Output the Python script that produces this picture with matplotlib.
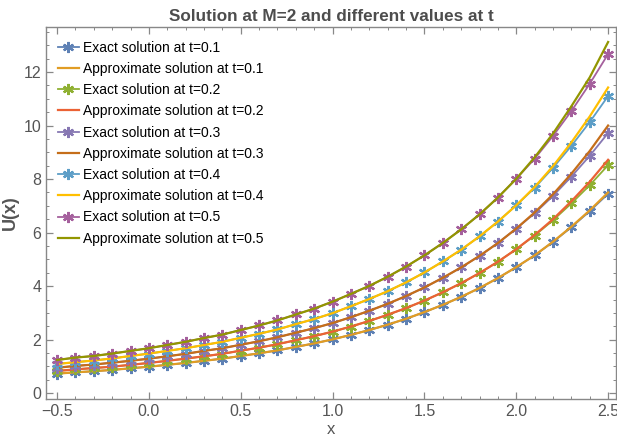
import matplotlib
matplotlib.use("Agg")
import matplotlib.pyplot as plt
from matplotlib.ticker import MultipleLocator

plt.rcParams['font.family'] = ['Liberation Sans', 'DejaVu Sans']

# x grid of the plotted points
x = [-0.5, -0.4, -0.3, -0.2, -0.1, 0.0, 0.1, 0.2, 0.3, 0.4, 0.5,
     0.6, 0.7, 0.8, 0.9, 1.0, 1.1, 1.2, 1.3, 1.4, 1.5,
     1.6, 1.7, 1.8, 1.9, 2.0, 2.1, 2.2, 2.3, 2.4, 2.5]

# exact solution (markers)
exact_t01 = [0.73, 0.78, 0.82, 0.87, 0.93, 0.99, 1.06, 1.13, 1.21, 1.29, 1.39,
             1.49, 1.60, 1.73, 1.86, 2.01, 2.18, 2.36, 2.56, 2.78, 3.03,
             3.30, 3.60, 3.93, 4.30, 4.71, 5.15, 5.65, 6.20, 6.80, 7.45]
exact_t02 = [0.83, 0.89, 0.94, 0.99, 1.06, 1.13, 1.21, 1.29, 1.38, 1.47, 1.59,
             1.70, 1.83, 1.98, 2.13, 2.30, 2.49, 2.70, 2.93, 3.18, 3.46,
             3.77, 4.11, 4.49, 4.91, 5.38, 5.89, 6.46, 7.09, 7.77, 8.52]
exact_t03 = [0.95, 1.02, 1.07, 1.14, 1.21, 1.29, 1.38, 1.47, 1.58, 1.68, 1.81,
             1.94, 2.09, 2.26, 2.43, 2.62, 2.84, 3.08, 3.34, 3.63, 3.95,
             4.31, 4.70, 5.13, 5.61, 6.15, 6.72, 7.37, 8.09, 8.87, 9.72]
exact_t04 = [1.09, 1.16, 1.22, 1.30, 1.39, 1.48, 1.58, 1.68, 1.80, 1.92, 2.07,
             2.22, 2.38, 2.58, 2.77, 2.99, 3.25, 3.52, 3.81, 4.14, 4.51,
             4.92, 5.36, 5.86, 6.41, 7.02, 7.67, 8.42, 9.24, 10.13, 11.10]
exact_t05 = [1.24, 1.33, 1.39, 1.48, 1.58, 1.68, 1.80, 1.92, 2.06, 2.19, 2.36,
             2.53, 2.72, 2.94, 3.16, 3.42, 3.71, 4.01, 4.35, 4.73, 5.15,
             5.61, 6.12, 6.68, 7.31, 8.01, 8.76, 9.61, 10.54, 11.56, 12.67]

# approximate solution (lines)
approx_t01 = [0.73, 0.78, 0.82, 0.87, 0.93, 0.99, 1.06, 1.13, 1.21, 1.29, 1.39,
              1.49, 1.60, 1.73, 1.86, 2.01, 2.18, 2.36, 2.56, 2.78, 3.03,
              3.30, 3.60, 3.93, 4.30, 4.71, 5.15, 5.66, 6.22, 6.83, 7.50]
approx_t02 = [0.83, 0.89, 0.94, 0.99, 1.06, 1.13, 1.21, 1.29, 1.38, 1.47, 1.59,
              1.70, 1.83, 1.98, 2.13, 2.30, 2.49, 2.70, 2.93, 3.18, 3.46,
              3.77, 4.11, 4.49, 4.91, 5.38, 5.91, 6.50, 7.17, 7.90, 8.72]
approx_t03 = [0.95, 1.02, 1.07, 1.14, 1.21, 1.29, 1.38, 1.47, 1.58, 1.68, 1.81,
              1.94, 2.09, 2.26, 2.43, 2.62, 2.84, 3.08, 3.34, 3.63, 3.95,
              4.31, 4.70, 5.13, 5.61, 6.15, 6.75, 7.43, 8.20, 9.05, 10.00]
approx_t04 = [1.09, 1.16, 1.22, 1.30, 1.39, 1.48, 1.58, 1.68, 1.80, 1.92, 2.07,
              2.22, 2.38, 2.58, 2.77, 2.99, 3.25, 3.52, 3.81, 4.14, 4.51,
              4.92, 5.36, 5.86, 6.41, 7.02, 7.70, 8.48, 9.37, 10.34, 11.42]
approx_t05 = [1.24, 1.33, 1.39, 1.48, 1.58, 1.68, 1.80, 1.92, 2.06, 2.19, 2.36,
              2.53, 2.72, 2.94, 3.16, 3.42, 3.71, 4.01, 4.35, 4.73, 5.15,
              5.61, 6.12, 6.68, 7.31, 8.01, 8.81, 9.70, 10.72, 11.80, 13.12]

t_labels = ["0.1", "0.2", "0.3", "0.4", "0.5"]
exact = [exact_t01, exact_t02, exact_t03, exact_t04, exact_t05]
approx = [approx_t01, approx_t02, approx_t03, approx_t04, approx_t05]

exact_colors = ['#5E81B5', '#8FB032', '#8778B3', '#5D9EC7', '#A5609D']
approx_colors = ['#E19C24', '#EB6235', '#C56E1A', '#FFBF00', '#929600']

fig = plt.figure(figsize=(6.17, 4.40), dpi=100)
ax = fig.add_axes([0.0746, 0.093, 0.9238, 0.8456])

for i in range(5):
    ax.plot(x, exact[i], color=exact_colors[i], lw=1.3,
            marker=(6, 2, 0), markersize=8, markeredgewidth=1.6,
            label='Exact solution at t=' + t_labels[i])
    ax.plot(x, approx[i], color=approx_colors[i], lw=1.6,
            label='Approximate solution at t=' + t_labels[i])

ax.set_xlim(-0.56, 2.543)
ax.set_ylim(-0.22, 13.68)

gray = '#555555'
ax.xaxis.set_minor_locator(MultipleLocator(0.1))
ax.yaxis.set_minor_locator(MultipleLocator(0.5))
ax.set_xticks([-0.5, 0.0, 0.5, 1.0, 1.5, 2.0, 2.5])
ax.set_xticklabels(['\u22120.5', '0.0', '0.5', '1.0', '1.5', '2.0', '2.5'])
ax.set_yticks([0, 2, 4, 6, 8, 10, 12])
ax.tick_params(which='both', direction='in', top=True, right=True,
               colors='#888888', labelcolor=gray, labelsize=11.5)
ax.tick_params(which='major', length=5, width=0.9)
ax.tick_params(which='minor', length=2.5, width=0.7)
for s in ax.spines.values():
    s.set_color('#888888')
    s.set_linewidth(1.0)

ax.set_title('Solution at M=2 and different values at t', fontsize=12.3,
             fontweight='bold', color='#4d4d4d', pad=4)
ax.set_xlabel('x', fontsize=12, color=gray, labelpad=2)
ax.set_ylabel('U(x)', fontsize=13, fontweight='bold', color=gray, labelpad=3)

ax.legend(loc='upper left', frameon=False, fontsize=10, handlelength=1.5,
          handletextpad=0.3, labelspacing=0.52, borderaxespad=0.45,
          bbox_to_anchor=(0.0, 0.995))

fig.savefig('out.png', dpi=100)
